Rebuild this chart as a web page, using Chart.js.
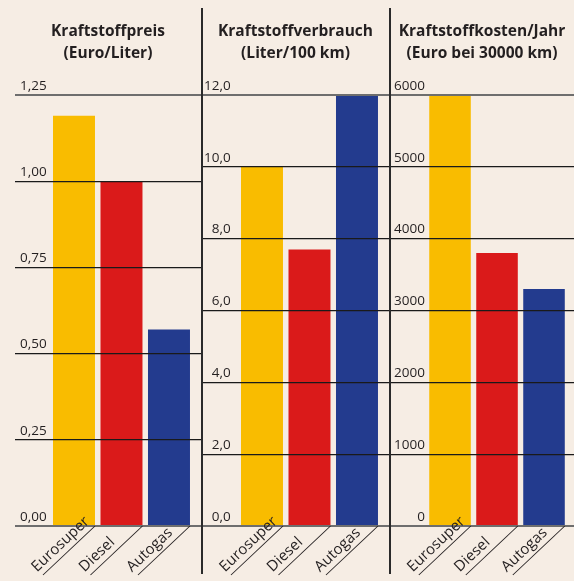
<!DOCTYPE html>
<html><head><meta charset="utf-8">
<script src="https://cdn.jsdelivr.net/npm/chart.js@4/dist/chart.umd.min.js"></script>
<style>
html,body{margin:0;padding:0;background:#F6EDE4;width:574px;height:581px;overflow:hidden;position:relative;}
.panel{position:absolute;top:0;height:581px;}
.divider{position:absolute;top:8px;height:566px;width:1.5px;background:#2a2a2a;z-index:5;}
</style></head><body>
<div class="panel" style="left:11px;width:190px"><canvas id="c1"></canvas></div>
<div class="panel" style="left:201px;width:189px"><canvas id="c2"></canvas></div>
<div class="panel" style="left:390px;width:184px"><canvas id="c3"></canvas></div>
<div class="divider" style="left:201px"></div>
<div class="divider" style="left:389px"></div>
<script>
const categories = ['Eurosuper', 'Diesel', 'Autogas'];
const preis = [1.19, 1.00, 0.57];
const verbrauch = [10.0, 7.7, 12.0];
const kosten = [6000, 3800, 3300];
const preisTicks = ['0,00', '0,25', '0,50', '0,75', '1,00', '1,25'];
const verbrauchTicks = ['0,0', '2,0', '4,0', '6,0', '8,0', '10,0', '12,0'];
const kostenTicks = ['0', '1000', '2000', '3000', '4000', '5000', '6000'];
const titlePreis = ['Kraftstoffpreis', '(Euro/Liter)'];
const titleVerbrauch = ['Kraftstoffverbrauch', '(Liter/100 km)'];
const titleKosten = ['Kraftstoffkosten/Jahr', '(Euro bei 30000 km)'];
const barColors = ['#F9BC00', '#DA1A1A', '#233B8E'];

const TXT = '#231f20';
const FONT = "'Open Sans', sans-serif";

// category labels along a diagonal under each bar (anchored at the bar's bottom-right corner)
const diagonalLabelPlugin = {
  id: 'diagLabels',
  afterDraw(chart) {
    const meta = chart.getDatasetMeta(0);
    const y0 = chart.scales.y.getPixelForValue(0);
    const ctx = chart.ctx;
    const ang = Math.atan2(49, 52);
    const len = Math.hypot(49, 52);
    ctx.save();
    ctx.strokeStyle = TXT;
    ctx.fillStyle = TXT;
    ctx.lineWidth = 1;
    ctx.font = "15px 'Open Sans', sans-serif";
    ctx.textAlign = 'left';
    ctx.textBaseline = 'alphabetic';
    meta.data.forEach((bar, i) => {
      const xr = bar.x + bar.width / 2;
      ctx.save();
      ctx.translate(xr, y0);
      ctx.rotate(-ang);
      ctx.beginPath();
      ctx.moveTo(0, 0);
      ctx.lineTo(-len, 0);
      ctx.stroke();
      ctx.fillText(chart.data.labels[i], -74, -6);
      ctx.restore();
    });
    ctx.restore();
  }
};

function makeChart(id, title, values, tickLabels, yMax, yStep, xMin, xMax, labelPad, padLeft) {
  new Chart(document.getElementById(id), {
    type: 'bar',
    data: {
      labels: categories,
      datasets: [{
        data: values.map((v, i) => ({x: i, y: v})),
        backgroundColor: barColors,
        borderWidth: 0,
        barPercentage: 0.884,
        categoryPercentage: 1
      }]
    },
    options: {
      responsive: true,
      maintainAspectRatio: false,
      animation: false,
      layout: {padding: {left: padLeft, right: 0, top: 0, bottom: 0}},
      plugins: {
        legend: {display: false},
        tooltip: {enabled: false},
        title: {
          display: true,
          text: title,
          color: TXT,
          font: {family: FONT, size: 15.5, weight: 'bold', lineHeight: 1.45},
          padding: {top: 20, bottom: 30}
        }
      },
      scales: {
        x: {
          type: 'linear',
          offset: false,
          min: xMin,
          max: xMax,
          afterBuildTicks: s => { s.ticks = categories.map((c, i) => ({value: i})); },
          afterFit: s => { s.height = 55; },
          grid: {display: false, offset: false},
          border: {display: false},
          ticks: {display: false}
        },
        y: {
          min: 0,
          max: yMax,
          afterFit: s => { s.width = 0; },
          border: {display: false},
          grid: {
            z: 1,
            drawTicks: false,
            color: c => (c.index === 0 || Math.abs(c.tick.value - yMax) < 1e-9) ? '#6e6e6e' : '#1a1a1a',
            lineWidth: c => (c.index === 0 || Math.abs(c.tick.value - yMax) < 1e-9) ? 2 : 1.2
          },
          ticks: {
            stepSize: yStep,
            mirror: true,
            crossAlign: 'far',
            padding: labelPad,
            labelOffset: -9,
            color: TXT,
            font: {family: FONT, size: 13.5},
            callback: v => tickLabels[Math.round(v / yStep)]
          }
        }
      }
    },
    plugins: [diagonalLabelPlugin]
  });
}

makeChart('c1', titlePreis, preis, preisTicks, 1.25, 0.25, -1.242, 2.674, 5, 4);
makeChart('c2', titleVerbrauch, verbrauch, verbrauchTicks, 12, 2, -1.284, 2.695, 3, 0);
makeChart('c3', titleKosten, kosten, kostenTicks, 6000, 1000, -1.277, 2.638, 4, 0);
</script>
</body></html>
